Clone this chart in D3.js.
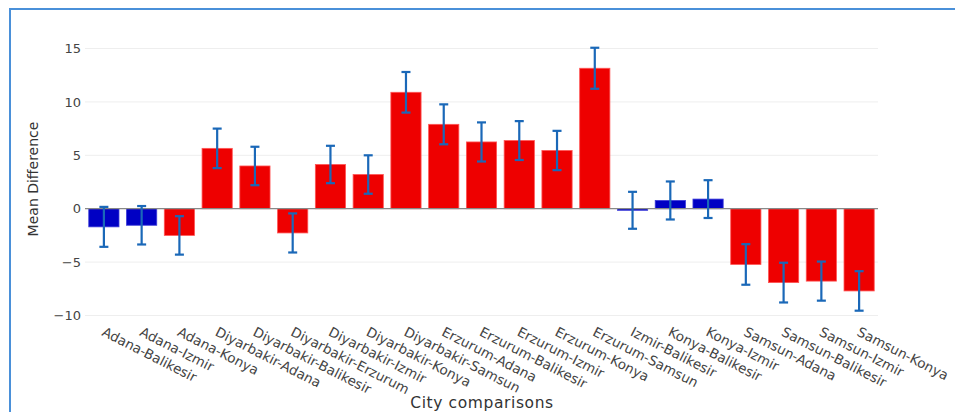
<!DOCTYPE html>
<html>
<head>
<meta charset="utf-8">
<script src="https://cdn.jsdelivr.net/npm/d3@7"></script>
<style>
    body { margin: 0; background: #fff; }
    svg { display: block; }
    text { font-family: "DejaVu Sans", Verdana, sans-serif; }
</style>
</head>
<body>
<div id="chart"></div>
<script>
// data
const comparisons = [
    "Adana-Balikesir", "Adana-Izmir", "Adana-Konya", "Diyarbakir-Adana",
    "Diyarbakir-Balikesir", "Diyarbakir-Erzurum", "Diyarbakir-Izmir", "Diyarbakir-Konya",
    "Diyarbakir-Samsun", "Erzurum-Adana", "Erzurum-Balikesir", "Erzurum-Izmir",
    "Erzurum-Konya", "Erzurum-Samsun", "Izmir-Balikesir", "Konya-Balikesir",
    "Konya-Izmir", "Samsun-Adana", "Samsun-Balikesir", "Samsun-Izmir", "Samsun-Konya"
]
const meanDiff = [
    -1.7, -1.55, -2.5, 5.65, 4.0, -2.27, 4.14, 3.2, 10.9, 7.9, 6.25,
    6.38, 5.45, 13.15, -0.15, 0.77, 0.9, -5.22, -6.92, -6.78, -7.7
]
const errHalf = [
    1.87, 1.8, 1.8, 1.85, 1.8, 1.83, 1.75, 1.8, 1.9, 1.87, 1.83,
    1.82, 1.84, 1.92, 1.73, 1.78, 1.77, 1.9, 1.86, 1.83, 1.85
]
// blue bars = not significant
const significant = [
    false, false, true, true, true, true, true, true, true, true, true,
    true, true, true, false, false, false, true, true, true, true
]
const yTicks = [-10, -5, 0, 5, 10, 15]

const W = 955, H = 412
const margin = { top: 30, left: 85, right: 77, bottom: 0 }

const svg = d3.select('#chart').append('svg')
    .attr('width', W)
    .attr('height', H)

// frame
svg.append('rect')
    .attr('x', 10).attr('y', 9)
    .attr('width', W + 10).attr('height', H + 10)
    .attr('fill', 'none')
    .attr('stroke', '#4a90d9')
    .attr('stroke-width', 2)

const x = d3.scaleBand()
    .domain(comparisons)
    .range([margin.left, W - margin.right])
    .paddingInner(0.2)
    .paddingOuter(0.1)

const y = d3.scaleLinear()
    .domain([-10, 15])
    .range([315.5, 48.5])

// gridlines
svg.append('g')
    .selectAll('line')
    .data(yTicks)
    .join('line')
    .attr('x1', margin.left)
    .attr('x2', W - margin.right)
    .attr('y1', d => y(d))
    .attr('y2', d => y(d))
    .attr('stroke', '#eeeeee')
    .attr('stroke-width', 1)

// y axis labels
const yAxis = svg.append('g')
    .attr('transform', `translate(${margin.left}, 0)`)
    .call(d3.axisLeft(y).tickValues(yTicks).tickSize(0).tickPadding(4)
        .tickFormat(d => d < 0 ? '\u2212' + Math.abs(d) : d))
yAxis.select('.domain').remove()
yAxis.selectAll('text')
    .attr('fill', '#444')
    .style('font-size', '13px')

// bars
svg.append('g')
    .selectAll('rect')
    .data(comparisons)
    .join('rect')
    .attr('x', d => x(d))
    .attr('width', x.bandwidth())
    .attr('y', (d, i) => y(Math.max(0, meanDiff[i])))
    .attr('height', (d, i) => Math.max(1.5, Math.abs(y(meanDiff[i]) - y(0))))
    .attr('fill', (d, i) => significant[i] ? '#ee0000' : '#0000c4')
    .attr('stroke', (d, i) => significant[i] ? '#ff5555' : '#3a3ad8')
    .attr('stroke-width', 0.8)

// zero line
svg.append('line')
    .attr('x1', margin.left)
    .attr('x2', W - margin.right)
    .attr('y1', y(0))
    .attr('y2', y(0))
    .attr('stroke', '#888')
    .attr('stroke-width', 1.2)

// error bars
const err = svg.append('g')
    .attr('stroke', '#1a68b8')
    .attr('stroke-width', 2.2)
    .selectAll('g')
    .data(comparisons)
    .join('g')
    .attr('transform', d => `translate(${x(d) + x.bandwidth() / 2}, 0)`)
err.append('line')
    .attr('y1', (d, i) => y(meanDiff[i] + errHalf[i]))
    .attr('y2', (d, i) => y(meanDiff[i] - errHalf[i]))
err.append('line')
    .attr('x1', -4.5).attr('x2', 4.5)
    .attr('y1', (d, i) => y(meanDiff[i] + errHalf[i]))
    .attr('y2', (d, i) => y(meanDiff[i] + errHalf[i]))
err.append('line')
    .attr('x1', -4.5).attr('x2', 4.5)
    .attr('y1', (d, i) => y(meanDiff[i] - errHalf[i]))
    .attr('y2', (d, i) => y(meanDiff[i] - errHalf[i]))

// x labels, rotated
svg.append('g')
    .selectAll('text')
    .data(comparisons)
    .join('text')
    .attr('transform', d => `translate(${x(d) + x.bandwidth() / 2 - 3}, 335) rotate(27)`)
    .attr('text-anchor', 'start')
    .attr('fill', '#444')
    .style('font-size', '13.5px')
    .text(d => d)

// axis titles
svg.append('text')
    .attr('transform', `translate(38, ${(y(15) + y(-10)) / 2 - 3}) rotate(-90)`)
    .attr('text-anchor', 'middle')
    .attr('fill', '#333')
    .style('font-size', '14px')
    .text('Mean Difference')

svg.append('text')
    .attr('x', 482)
    .attr('y', 408)
    .attr('text-anchor', 'middle')
    .attr('fill', '#333')
    .style('font-size', '15.5px')
    .style('letter-spacing', '0.6px')
    .text('City comparisons')
</script>
</body>
</html>
